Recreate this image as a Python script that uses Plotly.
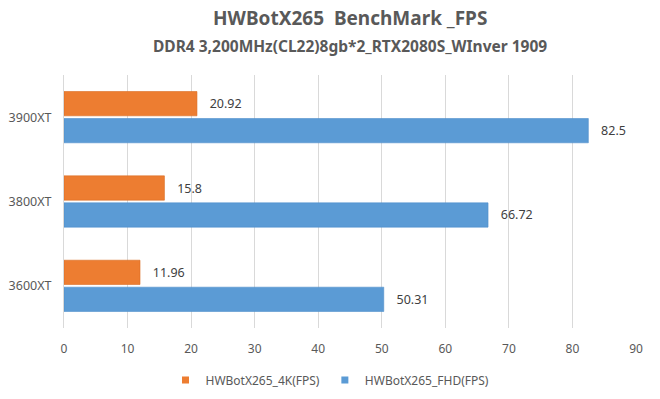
import plotly.graph_objects as go

categories = ["3600XT", "3800XT", "3900XT"]
fps_4k = [11.96, 15.8, 20.92]
fps_fhd = [50.31, 66.72, 82.5]
x_ticks = [0, 10, 20, 30, 40, 50, 60, 70, 80, 90]

title_text = "HWBotX265  BenchMark _FPS"
subtitle_text = "DDR4 3,200MHz(CL22)8gb*2_RTX2080S_WInver 1909"

FONT = "Noto Sans"
GRAY = "#595959"
ORANGE = "#ED7D31"
BLUE = "#5B9BD5"

fig = go.Figure()
fig.add_trace(go.Bar(
    y=categories, x=fps_fhd, orientation="h", name="HWBotX265_FHD(FPS)",
    marker=dict(color=BLUE, line=dict(color="#4F8ECB", width=0.6)),
    text=[str(v) for v in fps_fhd], texttemplate="   %{text}", textposition="outside",
    textfont=dict(color="#404040", size=12.5, family=FONT), cliponaxis=False,
    showlegend=False,
))
fig.add_trace(go.Bar(
    y=categories, x=fps_4k, orientation="h", name="HWBotX265_4K(FPS)",
    marker=dict(color=ORANGE, line=dict(color="#DA6C22", width=0.6)),
    text=[str(v) for v in fps_4k], texttemplate="   %{text}", textposition="outside",
    textfont=dict(color="#404040", size=12.5, family=FONT), cliponaxis=False,
    showlegend=False,
))
# legend entries with small square swatches
for name, col in [("HWBotX265_4K(FPS)", ORANGE), ("HWBotX265_FHD(FPS)", BLUE)]:
    fig.add_trace(go.Scatter(x=[None], y=[None], mode="markers", name=name,
                             marker=dict(symbol="square", size=7, color=col)))

plot_h = 399 - 75 - 71
fig.update_layout(
    width=660, height=399,
    margin=dict(l=64, r=24, t=75, b=71, autoexpand=False),
    paper_bgcolor="white", plot_bgcolor="white",
    barmode="group", bargap=0.36, bargroupgap=0.1,
    font=dict(family=FONT, color=GRAY, size=12),
    showlegend=True,
    legend=dict(orientation="h", x=0.5, xanchor="center", xref="container",
                y=19 / 399, yanchor="middle", yref="container",
                font=dict(size=12, color=GRAY), itemwidth=30, tracegroupgap=0,
                bgcolor="rgba(0,0,0,0)"),
    annotations=[
        dict(text="<b>" + title_text + "</b>", x=0.5, xref="paper",
             y=1 + (75 - 18) / plot_h, yref="paper", yanchor="middle",
             showarrow=False, font=dict(size=19, color=GRAY, family=FONT)),
        dict(text="<b>" + subtitle_text + "</b>", x=0.5, xref="paper",
             y=1 + (75 - 46) / plot_h, yref="paper", yanchor="middle",
             showarrow=False, font=dict(size=15.5, color=GRAY, family=FONT)),
    ],
)

fig.update_xaxes(range=[0, 90], tickvals=x_ticks, showgrid=True, gridcolor="#D9D9D9",
                 gridwidth=1, zeroline=False, showline=False, automargin=False,
                 tickfont=dict(size=12, color=GRAY), ticks="", ticklabelstandoff=12,
                 fixedrange=True)
fig.update_yaxes(showline=True, linecolor="#D9D9D9", linewidth=1, ticks="",
                 automargin=False, tickfont=dict(size=12.5, color=GRAY),
                 ticklabelstandoff=9, fixedrange=True)

fig.write_html("out.html", config={"displayModeBar": False},
               post_script="document.body.style.margin='0';document.body.style.overflow='hidden';")
